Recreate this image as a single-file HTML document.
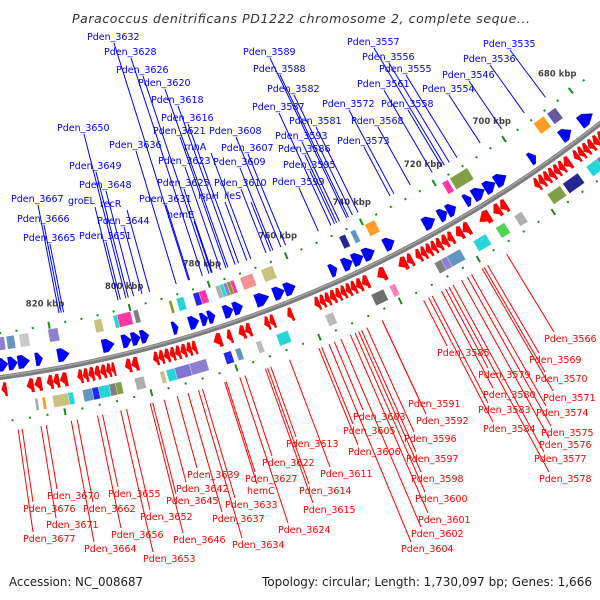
<!DOCTYPE html>
<html><head><meta charset="utf-8"><style>
html,body{margin:0;padding:0;background:#fff;}
svg{display:block;font-family:"DejaVu Sans","Liberation Sans",sans-serif;}
</style></head><body>
<svg id="map" width="600" height="600" viewBox="0 0 600 600" xmlns="http://www.w3.org/2000/svg">
<rect width="600" height="600" fill="#fff"/>
<text x="72" y="23" font-size="12.5" font-style="italic" fill="#333" textLength="458" lengthAdjust="spacing">Paracoccus denitrificans PD1222 chromosome 2, complete seque...</text>
<g id="ticks"></g><g id="lines"></g><g id="boxes"></g><g id="genes"></g>
<circle cx="-168" cy="-855" r="1244" fill="none" stroke="#7d7d7d" stroke-width="5"/>
<circle cx="-168" cy="-855" r="1243" fill="none" stroke="#a8a8a8" stroke-width="1.2"/>
<g id="labels"></g>
<text x="9" y="586" font-size="12" fill="#222" textLength="134" lengthAdjust="spacingAndGlyphs">Accession: NC_008687</text>
<text x="592" y="586" font-size="12" fill="#222" text-anchor="end" textLength="330" lengthAdjust="spacingAndGlyphs">Topology: circular; Length: 1,730,097 bp; Genes: 1,666</text>
</svg>
<script>
// ---- data (kbp) ----
const revGenes = [[832.3,833.5],[826,827.6],[824.1,825.8],[821.5,822.9],[820,821.4],[818.1,819.8],
[814.5,815.7],[813.2,814.4],[811.8,813.1],[810.4,811.7],[809,810.3],[807.8,808.9],[806.8,807.7],
[803,804.4],[801.3,802.9],[796.5,797.7],[795.2,796.4],[793.8,795.1],[792.5,793.7],[791.2,792.4],[789.8,791.1],[788.5,789.7],[787.3,788.4],
[781.2,783.1],[778.7,779.9],[775.5,777],[774,775.4],[769.5,770.7],[768.2,769.4],[763.7,765],
[757,758.2],[755.7,756.9],[754.4,755.6],[753,754.3],[751.7,752.9],[750.4,751.6],[749.1,750.3],[747.8,749],[746.3,747.7],[744.6,746.2],
[740.2,742.3],[734.7,736.8],[733.2,734.6],
[731,732.3],[729.7,730.9],[728.3,729.6],[727,728.2],[725.6,726.9],[724,725.5],[722.5,723.9],
[720,721.7],[718.1,719.9],[712.6,715.4],[709.8,711.6],[708,709.7],
[699,700.2],[697.6,698.9],[696.2,697.5],[694.8,696.1],[693.4,694.7],[692,693.3],[690.2,691.9],
[687.8,689],[686.4,687.7],[685,686.3],[683.5,684.9],[682,683.4],[680.5,681.9],[679,680.4]];
const fwdGenes = [[831.2,833.5],[828.9,831.1],[826,828.8],[822.9,824.6],[816.5,819.3],[805.6,808.5],
[801.5,803.7],[799.3,801.4],[797.2,799.2],[790,791.4],[784.9,787.3],[782.7,784.4],[780.9,782.6],
[776.4,778.7],[774,776.3],[767.4,770.7],[763.5,766.2],[760.7,763.4],[750,751.8],
[746,748.5],[743.2,745.9],[740.2,743.1],[735,737.6],[724.1,727.1],[720.8,723],[718.4,720.7],
[714.2,715.9],[710.5,713.6],[707.5,710.4],[704.4,707.4],[696,697.7],[685.7,688.6],[679.3,683]];
const innerBoxes = [[831.2,833.5,"#7b68c8"],[828.8,830.7,"#4682b4"],[825.3,827.6,"#c0c0c0"],[818.1,820.5,"#7b68c8"],
[807.3,809.2,"#bdb76b"],[803.4,804.4,"#00ced1"],[800.1,803.4,"#ff1493"],[798.2,799.4,"#696969"],
[789.8,790.5,"#808000"],[786.8,788.6,"#00ced1"],[782.9,784.4,"#0000ee"],[781.2,782.9,"#ff1493"],
[777.6,778.7,"#a0a0a0"],[776.7,777.6,"#00ced1"],[775.8,776.7,"#7b68c8"],[774.9,775.8,"#808000"],[774,774.9,"#ff1493"],
[769.2,772.4,"#f08080"],[764,767,"#bdb76b"],[744.9,746.5,"#000080"],[742.2,743.5,"#4682b4"],[737,739.6,"#ff8c00"],
[716.8,718.4,"#ff1493"],[711.3,716.2,"#6b8e23"],[689,692,"#ff8c00"],[685.5,688,"#483d8b"]];
const outerBoxes = [[825.6,826.3,"#a0a0a0"],[823.9,824.6,"#ff8c00"],[818.6,822.2,"#bdb76b"],[817.4,818.6,"#00ced1"],
[813,815.2,"#4682b4"],[811.5,813,"#0000ee"],[809,811.5,"#00ced1"],[807.5,809,"#696969"],[806.1,807.5,"#6b8e23"],
[800.8,803,"#a0a0a0"],[796,797,"#bdb76b"],[793.5,795.5,"#00ced1"],[790,793.5,"#6a5acd"],[786,790,"#7b68c8"],
[780,781.8,"#0000ee"],[777.7,779,"#4682b4"],[772.7,774,"#b0b0b0"],[766.2,769,"#00ced1"],[755,757,"#b0b0b0"],
[742.3,745.4,"#555555"],[739.4,740.8,"#ff69b4"],[722.5,726,"#4682b4"],[726,727.5,"#7b68c8"],[727.5,729.2,"#696969"],
[715.7,719,"#00ced1"],[710.7,713,"#32cd32"],[706,708,"#a0a0a0"],[695.4,698.9,"#6b8e23"],[690.4,694.6,"#000080"],
[685,688,"#00ced1"],[682.5,685,"#6a5acd"],[679.3,682.5,"#000080"]];
const kbpTicks = [680,700,720,740,760,780,800,820];
const blueLabels = [["Pden_3632",87,40],["Pden_3628",104,55],["Pden_3626",116,73],["Pden_3620",138,86],["Pden_3618",151,103],
["Pden_3616",161,121],["Pden_3650",57,131],["Pden_3621",153,134],["Pden_3608",209,134],["Pden_3636",109,148],["rnhA",184,150],
["Pden_3607",221,151],["Pden_3623",158,164],["Pden_3609",213,165],["Pden_3649",69,169],["Pden_3648",79,188],["Pden_3625",157,186],
["Pden_3610",214,186],["Pden_3667",11,202],["groEL",68,204],["recR",100,207],["Pden_3631",139,202],["ispH",198,199],["ileS",224,199],
["Pden_3666",17,222],["Pden_3644",97,224],["hemE",167,218],["Pden_3665",23,241],["Pden_3651",79,239],
["Pden_3557",347,45],["Pden_3589",243,55],["Pden_3535",483,47],["Pden_3556",362,60],["Pden_3536",463,62],["Pden_3588",253,72],
["Pden_3555",379,72],["Pden_3546",442,78],["Pden_3561",357,87],["Pden_3582",267,92],["Pden_3554",422,92],["Pden_3572",322,107],
["Pden_3558",381,107],["Pden_3587",252,110],["Pden_3581",289,124],["Pden_3568",351,124],["Pden_3593",275,139],["Pden_3573",337,144],
["Pden_3586",278,152],["Pden_3595",283,168],["Pden_3599",272,185]];
const redLabels = [["Pden_3566",544,342],["Pden_3569",529,363],["Pden_3585",437,356],["Pden_3579",478,378],["Pden_3570",535,382],
["Pden_3580",483,398],["Pden_3571",543,401],["Pden_3583",478,413],["Pden_3574",536,416],["Pden_3591",408,407],["Pden_3603",353,420],
["Pden_3592",416,424],["Pden_3584",483,432],["Pden_3605",343,434],["Pden_3575",541,436],["Pden_3596",404,442],["Pden_3576",539,448],
["Pden_3613",286,447],["Pden_3606",348,455],["Pden_3577",534,462],["Pden_3597",406,462],["Pden_3611",320,477],["Pden_3598",411,482],
["Pden_3578",539,482],["Pden_3614",299,494],["Pden_3600",415,502],["Pden_3615",303,513],["Pden_3601",418,523],["Pden_3602",411,537],
["Pden_3624",278,533],["Pden_3604",401,552],["Pden_3622",262,466],["Pden_3639",187,478],["Pden_3627",245,482],["Pden_3642",176,492],
["hemC",247,494],["Pden_3645",166,504],["Pden_3633",225,508],["Pden_3637",212,522],["Pden_3646",173,543],["Pden_3634",232,548],
["Pden_3670",47,499],["Pden_3655",108,497],["Pden_3676",23,512],["Pden_3662",83,512],["Pden_3652",140,520],["Pden_3671",46,528],
["Pden_3656",111,538],["Pden_3677",23,542],["Pden_3664",84,552],["Pden_3653",143,562]];

// ---- geometry ----
const NS="http://www.w3.org/2000/svg";
const CX=-168, CY=-855, R=1244;
function ang(bp){return (52+(bp-680)*0.197)*Math.PI/180;}
function pt(r,bp){const a=ang(bp);return [CX+r*Math.cos(a),CY+r*Math.sin(a)];}
function ps(arr){return arr.map(p=>p[0].toFixed(2)+","+p[1].toFixed(2)).join(" ");}
function mk(tag,parent,attrs){const e=document.createElementNS(NS,tag);for(const k in attrs)e.setAttribute(k,attrs[k]);parent.appendChild(e);return e;}
const gTicks=document.getElementById("ticks"),gLines=document.getElementById("lines"),gBoxes=document.getElementById("boxes"),gGenes=document.getElementById("genes"),gLabels=document.getElementById("labels");

// ticks
for(let bp=676;bp<=836;bp+=4){
  const big=(bp%20===0);
  [1200,1288].forEach(rr=>{
    const a=pt(rr-(big?3.5:1),bp),b=pt(rr+(big?3.5:1),bp);
    const l=mk("line",gTicks,{x1:a[0],y1:a[1],x2:b[0],y2:b[1],stroke:"#1a8a1a","stroke-width":big?2:2});
    
    
  });
}
kbpTicks.forEach(k=>{
  const p=pt(1178,k);
  const t=mk("text",gTicks,{x:p[0],y:p[1]+3,"font-size":"8.5","text-anchor":"middle",fill:"#444","font-weight":"bold"});
  t.textContent=k+" kbp";
  
  
});

// boxes
function box(s,e,r1,r2,c,name){
  const p=mk("polygon",gBoxes,{points:ps([pt(r1,s),pt(r2,s),pt(r2,e),pt(r1,e)]),fill:c,"fill-opacity":"0.85",stroke:"#fff","stroke-width":"0.3"});
  
  
}
innerBoxes.forEach(b=>box(b[0],b[1],R-27,R-40,b[2],'cog-box-forward'));
outerBoxes.forEach(b=>box(b[0],b[1],R+26,R+38,b[2],'cog-box-reverse'));

// genes
revGenes.forEach(g=>{
  const s=g[0],e=g[1],h=(e-s)*0.6,r1=R+6,r2=R+19,rm=(r1+r2)/2;
  const p=mk("polygon",gGenes,{points:ps([pt(r1,s),pt(r2,s),pt(r2,e-h),pt(rm+4,e-h),pt(rm,e),pt(r1-1,e-h)]),fill:"#f00",stroke:"#d00","stroke-width":"0.4"});
  
  
});
fwdGenes.forEach(g=>{
  const s=g[0],e=g[1],h=(e-s)*0.6,r1=R-6,r2=R-19,rm=(r1+r2)/2;
  const p=mk("polygon",gGenes,{points:ps([pt(r1,e),pt(r2,e),pt(r2,s+h),pt(rm,s),pt(r1,s+h)]),fill:"#00f",stroke:"#00c","stroke-width":"0.4"});
  
  
});

// labels
blueLabels.forEach(L=>{
  const ax=L[1]+27,ay=L[2]+3,a=Math.atan2(ay-CY,ax-CX);
  const ex=CX+1190*Math.cos(a),ey=CY+1190*Math.sin(a);
  const l=mk("line",gLines,{x1:ax,y1:ay,x2:ex,y2:ey,stroke:"#00f","stroke-width":"1"});
  
  
  const t=mk("text",gLabels,{x:L[1],y:L[2],"font-size":"9.5",fill:"#00f"});
  t.textContent=L[0];
  
  
});
redLabels.forEach(L=>{
  const ax=L[1]+10,ay=L[2]-10,a=Math.atan2(ay-CY,ax-CX);
  const sx=CX+1298*Math.cos(a),sy=CY+1298*Math.sin(a);
  const l=mk("line",gLines,{x1:sx,y1:sy,x2:ax,y2:ay,stroke:"#f00","stroke-width":"1"});
  
  
  const t=mk("text",gLabels,{x:L[1],y:L[2],"font-size":"9.5",fill:"#f00"});
  t.textContent=L[0];
  
  
});
</script>
</body></html>
